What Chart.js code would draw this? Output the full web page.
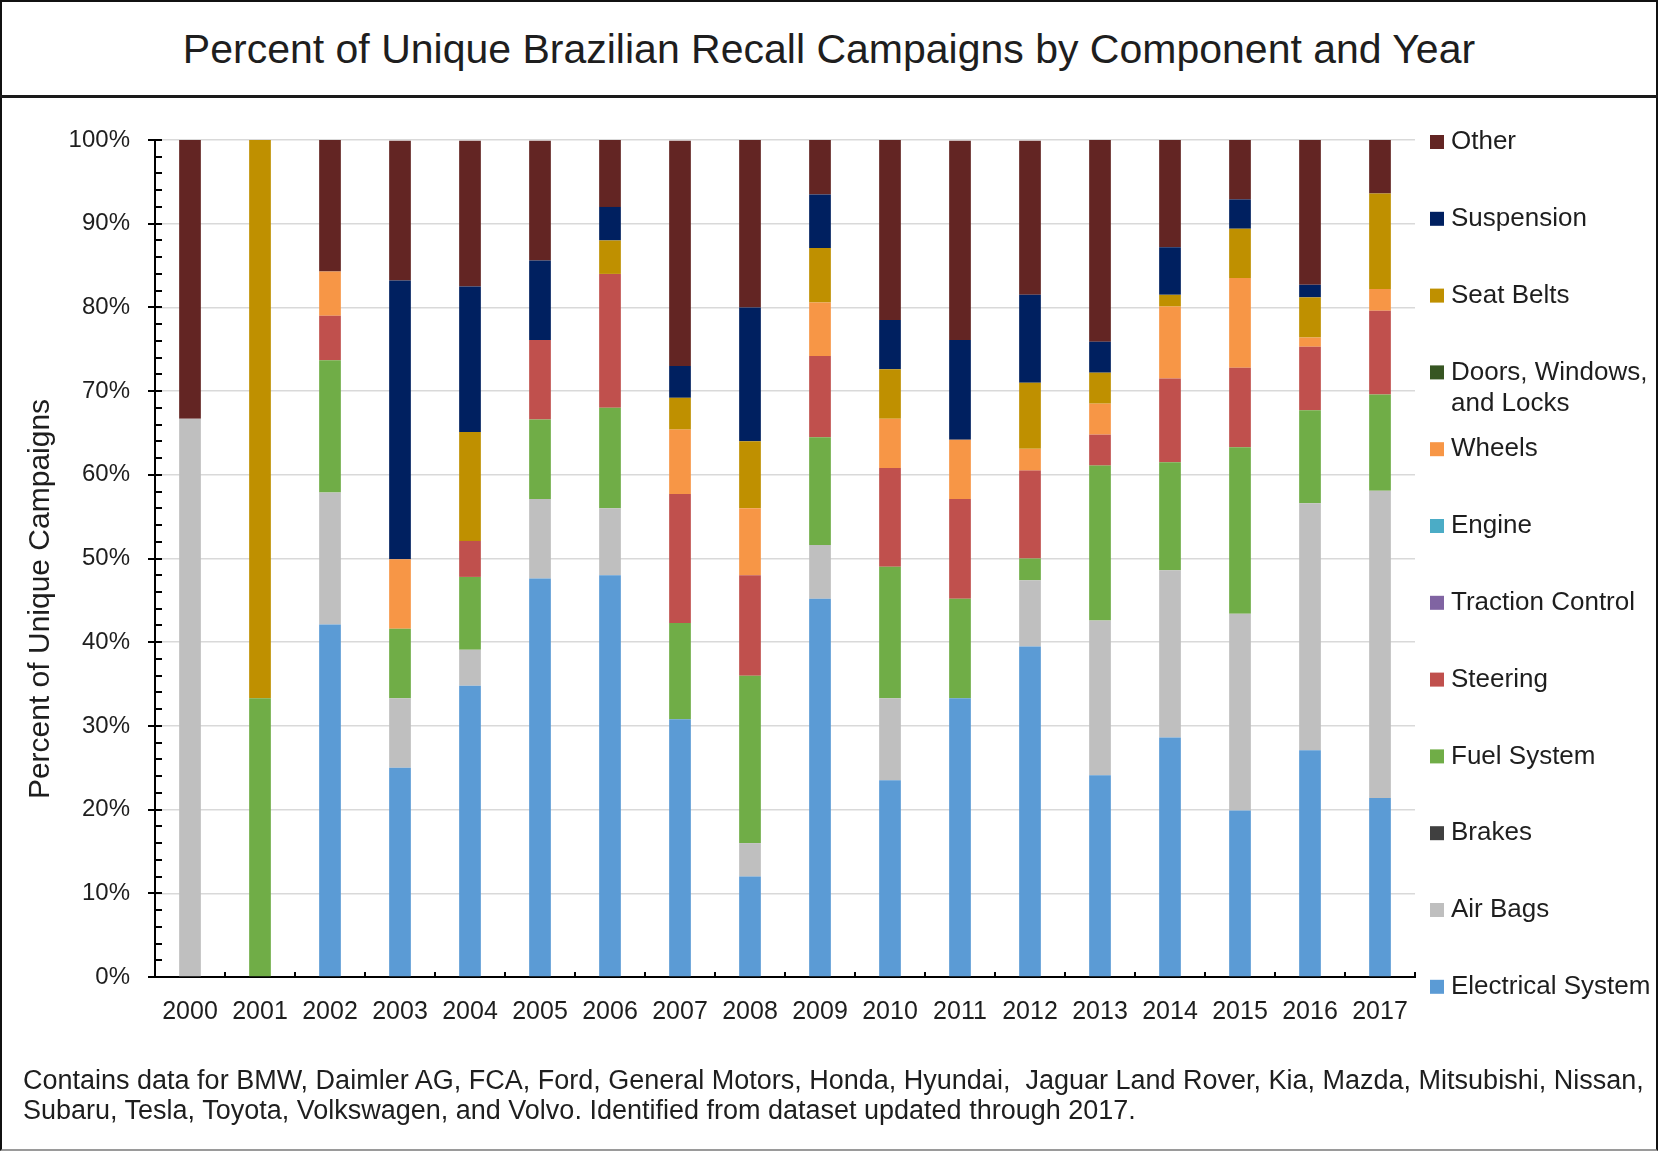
<!DOCTYPE html>
<html>
<head>
<meta charset="utf-8">
<title>Brazilian Recall Campaigns</title>
<script src="https://cdn.jsdelivr.net/npm/chart.js@4.4.0/dist/chart.umd.min.js"></script>
<style>
  body { margin: 0; background: #fff; font-family: "Liberation Sans", Arial, sans-serif; color: #1e1e1e; }
  #frame { position: absolute; left: 0; top: 0; width: 1658px; height: 1151px; box-sizing: border-box;
           border: 2px solid #111; border-bottom-color: #9a9a9a; }
  #title { position: absolute; left: 0; top: 0; width: 1658px; height: 98px; box-sizing: border-box;
           border-bottom: 3px solid #1a1a1a; text-align: center; line-height: 98px; font-size: 41px; }
  #note { position: absolute; left: 23px; top: 1065px; font-size: 27px; line-height: 30px; white-space: nowrap; }
  canvas { position: absolute; left: 0; top: 0; }
</style>
</head>
<body>
<div id="frame"></div>
<div id="title">Percent of Unique Brazilian Recall Campaigns by Component and Year</div>
<canvas id="chart" width="1658" height="1151"></canvas>
<div id="note">Contains data for BMW, Daimler AG, FCA, Ford, General Motors, Honda, Hyundai,&nbsp; Jaguar Land Rover, Kia, Mazda, Mitsubishi, Nissan,<br>Subaru, Tesla, Toyota, Volkswagen, and Volvo. Identified from dataset updated through 2017.</div>
<script>
'use strict';

// years on the x axis
const years = ['2000', '2001', '2002', '2003', '2004', '2005', '2006', '2007', '2008',
               '2009', '2010', '2011', '2012', '2013', '2014', '2015', '2016', '2017'];

// percent of campaigns per component
const electrical = [0, 0, 42.1, 25, 34.8, 47.6, 48, 30.8, 12, 45.2, 23.5, 33.3, 39.5, 24.1, 28.6, 19.9, 27.1, 21.4];
const airBags    = [66.7, 0, 15.8, 8.3, 4.3, 9.5, 8, 0, 4, 6.4, 9.8, 0, 7.9, 18.5, 20, 23.5, 29.5, 36.7];
const brakes     = [0, 0, 0, 0, 0, 0, 0, 0, 0, 0, 0, 0, 0, 0, 0, 0, 0, 0];
const fuel       = [0, 33.3, 15.8, 8.3, 8.7, 9.5, 12, 11.5, 20, 12.9, 15.7, 11.9, 2.6, 18.5, 12.9, 19.9, 11.1, 11.5];
const steering   = [0, 0, 5.3, 0, 4.3, 9.5, 16, 15.4, 12, 9.7, 11.8, 11.9, 10.5, 3.7, 10, 9.5, 7.6, 10];
const traction   = [0, 0, 0, 0, 0, 0, 0, 0, 0, 0, 0, 0, 0, 0, 0, 0, 0, 0];
const engine     = [0, 0, 0, 0, 0, 0, 0, 0, 0, 0, 0, 0, 0, 0, 0, 0, 0, 0];
const wheels     = [0, 0, 5.3, 8.3, 0, 0, 0, 7.7, 8, 6.4, 5.9, 7.1, 2.6, 3.7, 8.6, 10.7, 1.1, 2.6];
const doors      = [0, 0, 0, 0, 0, 0, 0, 0, 0, 0, 0, 0, 0, 0, 0, 0, 0, 0];
const seatBelts  = [0, 66.7, 0, 0, 13, 0, 4, 3.8, 8, 6.5, 5.9, 0, 7.9, 3.7, 1.4, 5.9, 4.8, 11.4];
const suspension = [0, 0, 0, 33.3, 17.4, 9.5, 4, 3.8, 16, 6.4, 5.9, 11.9, 10.5, 3.7, 5.7, 3.5, 1.5, 0];
const other      = [33.3, 0, 15.8, 16.7, 17.4, 14.3, 8, 26.9, 20, 6.5, 21.6, 23.8, 18.4, 24.1, 12.9, 7.1, 17.3, 6.4];

const yTicks = [0, 10, 20, 30, 40, 50, 60, 70, 80, 90, 100];
const yTitle = 'Percent of Unique Campaigns';

const FONT = '"Liberation Sans", Arial, sans-serif';
const INK = '#1e1e1e';

Chart.defaults.font.family = FONT;
Chart.defaults.color = INK;

function series(label, data, color) {
    return { label: label, data: data, backgroundColor: color, borderWidth: 0,
             barPercentage: 0.31, categoryPercentage: 1 };
}

// side legend, top to bottom, long labels wrapped
const sideLegend = {
    id: 'sideLegend',
    afterDraw(chart) {
        const ctx = chart.ctx, area = chart.chartArea;
        const items = chart.data.datasets.slice().reverse();
        ctx.save();
        ctx.font = '26px ' + FONT;
        ctx.textBaseline = 'middle';
        items.forEach(function (ds, i) {
            const y = area.top + 2 + i * 76.8;
            ctx.fillStyle = ds.backgroundColor;
            ctx.fillRect(area.right + 15, y - 7, 14, 14);
            ctx.fillStyle = INK;
            const lines = [];
            let cur = '';
            ds.label.split(' ').forEach(function (w) {
                const t = cur ? cur + ' ' + w : w;
                if (cur && ctx.measureText(t).width > 205) { lines.push(cur); cur = w; } else { cur = t; }
            });
            lines.push(cur);
            lines.forEach(function (ln, k) { ctx.fillText(ln, area.right + 36, y + k * 31); });
        });
        ctx.restore();
    }
};

// minor ticks on the y axis, category ticks on the x axis, rotated axis title
const axisMarks = {
    id: 'axisMarks',
    afterDraw(chart) {
        const ctx = chart.ctx, area = chart.chartArea;
        const xs = chart.scales.x, ys = chart.scales.y;
        ctx.save();
        ctx.strokeStyle = '#000';
        ctx.lineWidth = 2;
        ctx.beginPath();
        for (let v = 0; v <= 100; v += 2) {
            const y = Math.round(ys.getPixelForValue(v));
            ctx.moveTo(area.left + (v % 10 === 0 ? -7 : 0), y);
            ctx.lineTo(area.left + 7, y);
        }
        const half = (xs.getPixelForValue(1) - xs.getPixelForValue(0)) / 2;
        for (let i = 0; i < years.length; i++) {
            const x = Math.round(xs.getPixelForValue(i) + half);
            ctx.moveTo(x, area.bottom);
            ctx.lineTo(x, area.bottom - 5);
        }
        ctx.stroke();

        ctx.translate(41, 599);
        ctx.rotate(-Math.PI / 2);
        ctx.font = '30px ' + FONT;
        ctx.fillStyle = INK;
        ctx.textAlign = 'center';
        ctx.textBaseline = 'middle';
        ctx.fillText(yTitle, 0, 0);
        ctx.restore();
    }
};

new Chart(document.getElementById('chart'), {
    type: 'bar',
    data: {
        labels: years,
        datasets: [
            series('Electrical System', electrical, '#5B9BD5'),
            series('Air Bags', airBags, '#BFBFBF'),
            series('Brakes', brakes, '#404040'),
            series('Fuel System', fuel, '#70AD47'),
            series('Steering', steering, '#C0504D'),
            series('Traction Control', traction, '#8064A2'),
            series('Engine', engine, '#4BACC6'),
            series('Wheels', wheels, '#F79646'),
            series('Doors, Windows, and Locks', doors, '#375623'),
            series('Seat Belts', seatBelts, '#BF9000'),
            series('Suspension', suspension, '#002060'),
            series('Other', other, '#632523')
        ]
    },
    options: {
        responsive: false,
        animation: false,
        devicePixelRatio: 1,
        layout: { padding: { left: 20, top: 140, right: 243, bottom: 124 } },
        plugins: { legend: { display: false }, tooltip: { enabled: false } },
        scales: {
            x: {
                stacked: true,
                grid: { display: false },
                border: { color: '#000', width: 2 },
                ticks: { font: { size: 25 }, padding: 12, color: INK },
                afterFit(s) { s.height = 50; }
            },
            y: {
                stacked: true,
                min: 0,
                max: 100,
                afterBuildTicks(s) { s.ticks = yTicks.map(function (v) { return { value: v }; }); },
                grid: { color: '#d9d9d9', lineWidth: 1.5, drawTicks: false },
                border: { color: '#000', width: 2 },
                ticks: { font: { size: 24 }, padding: 25, color: INK,
                         callback: function (v) { return v + '%'; } },
                afterFit(s) { s.width = 135; }
            }
        }
    },
    plugins: [sideLegend, axisMarks]
});
</script>
</body>
</html>
